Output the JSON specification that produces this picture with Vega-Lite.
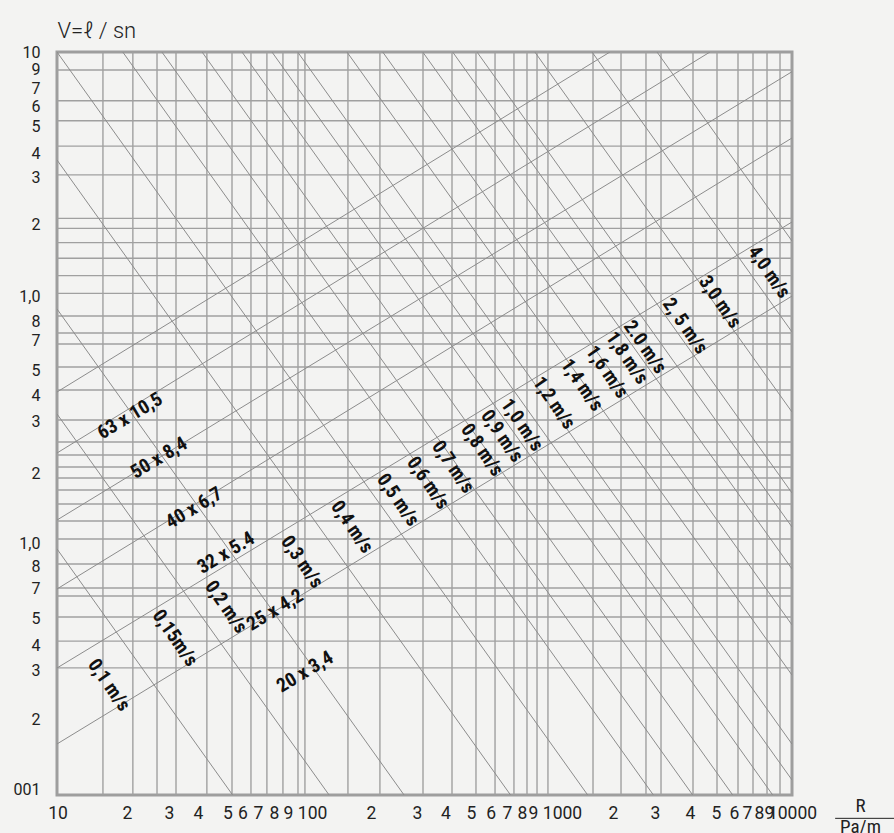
{
  "$schema": "https://vega.github.io/schema/vega-lite/v6.json",
  "width": 735,
  "height": 743,
  "autosize": {"type": "none"},
  "padding": {"left": 57, "top": 52, "right": 102, "bottom": 38},
  "background": "#f3f3f2",
  "config": {"view": {"stroke": "#9e9e9e", "strokeWidth": 3}},
  "datasets": {
    "vgrid": [{"r":15.4},{"r":20.4},{"r":25.6},{"r":30.6},{"r":40.9},{"r":51.8},{"r":61.9},{"r":71.9},{"r":83.6},{"r":96.3},{"r":102.8},{"r":154},{"r":208},{"r":311.8},{"r":409.5},{"r":513},{"r":613.6},{"r":733},{"r":828.5},{"r":910.5},{"r":1009},{"r":1541},{"r":2005},{"r":2535},{"r":2920},{"r":3944},{"r":4942},{"r":6020},{"r":6932},{"r":7907},{"r":8935}],
    "hgrid": [{"v":8.46},{"v":6.36},{"v":5.28},{"v":4.17},{"v":3.19},{"v":2.13},{"v":1.94},{"v":1.70},{"v":1.47},{"v":1.25},{"v":1.06},{"v":0.859},{"v":0.7335},{"v":0.6622},{"v":0.5348},{"v":0.4318},{"v":0.3266},{"v":0.2662},{"v":0.2359},{"v":0.2111},{"v":0.1905},{"v":0.1704},{"v":0.1496},{"v":0.1277},{"v":0.1081},{"v":0.0856},{"v":0.0685},{"v":0.0636},{"v":0.0523},{"v":0.0418},{"v":0.0326}],
    "lines": [
      {"r1":10,"v1":0.0985,"r2":52.1,"v2":0.01},
      {"r1":10,"v1":0.3455,"r2":129,"v2":0.01},
      {"r1":10,"v1":0.917,"r2":261,"v2":0.01},
      {"r1":10,"v1":3.664,"r2":710,"v2":0.01},
      {"r1":10,"v1":10,"r2":1466,"v2":0.01},
      {"r1":18.55,"v1":10,"r2":2719,"v2":0.01},
      {"r1":26.8,"v1":10,"r2":3933,"v2":0.01},
      {"r1":39.1,"v1":10,"r2":5728,"v2":0.01},
      {"r1":56.9,"v1":10,"r2":8341,"v2":0.01},
      {"r1":75.4,"v1":10,"r2":10000,"v2":0.0115},
      {"r1":96.0,"v1":10,"r2":10000,"v2":0.01606},
      {"r1":152.6,"v1":10,"r2":10000,"v2":0.0305},
      {"r1":213.5,"v1":10,"r2":10000,"v2":0.0486},
      {"r1":311,"v1":10,"r2":10000,"v2":0.0818},
      {"r1":412,"v1":10,"r2":10000,"v2":0.1208},
      {"r1":518,"v1":10,"r2":10000,"v2":0.1657},
      {"r1":892,"v1":10,"r2":10000,"v2":0.3518},
      {"r1":1527,"v1":10,"r2":10000,"v2":0.7404},
      {"r1":2812,"v1":10,"r2":10000,"v2":1.725},
      {"r1":10,"v1":0.4238,"r2":1807,"v2":10},
      {"r1":10,"v1":0.2404,"r2":4627,"v2":10},
      {"r1":10,"v1":0.1289,"r2":10000,"v2":8.327},
      {"r1":10,"v1":0.0679,"r2":10000,"v2":4.496},
      {"r1":10,"v1":0.03257,"r2":10000,"v2":2.059},
      {"r1":10,"v1":0.01607,"r2":10000,"v2":1.034}
    ],
    "vlabels": [
      {"r":16.3,"v":0.0278,"t":"0,1 m/s"},
      {"r":30.3,"v":0.04304,"t":"0,15m/s"},
      {"r":48.95,"v":0.05742,"t":"0,2 m/s"},
      {"r":100,"v":0.0873,"t":"0,3 m/s"},
      {"r":160,"v":0.1208,"t":"0,4 m/s"},
      {"r":246.5,"v":0.1553,"t":"0,5 m/s"},
      {"r":326.8,"v":0.1819,"t":"0,6 m/s"},
      {"r":413.4,"v":0.2111,"t":"0,7 m/s"},
      {"r":542.8,"v":0.2472,"t":"0,8 m/s"},
      {"r":655.2,"v":0.2814,"t":"0,9 m/s"},
      {"r":790.7,"v":0.3119,"t":"1,0 m/s"},
      {"r":1068,"v":0.3826,"t":"1,2 m/s"},
      {"r":1389,"v":0.4522,"t":"1,4 m/s"},
      {"r":1757,"v":0.5105,"t":"1,6 m/s"},
      {"r":2121,"v":0.5814,"t":"1,8 m/s"},
      {"r":2512,"v":0.6439,"t":"2.0 m/s"},
      {"r":3659,"v":0.783,"t":"2, 5 m/s"},
      {"r":5082,"v":0.9786,"t":"3,0 m/s"},
      {"r":8057,"v":1.293,"t":"4,0 m/s"}
    ],
    "dlabels": [
      {"r":19.86,"v":0.3391,"t":"63 x 10,5"},
      {"r":26.08,"v":0.2294,"t":"50 x 8,4"},
      {"r":36.25,"v":0.1441,"t":"40 x 6,7"},
      {"r":48.95,"v":0.0949,"t":"32 x 5.4"},
      {"r":77.6,"v":0.0558,"t":"25 x 4,2"},
      {"r":102.8,"v":0.03139,"t":"20 x 3,4"}
    ],
    "frac": [{"r1":15000,"r2":26500,"v":0.00805}]
  },
  "encoding": {
    "x": {"type": "quantitative",
      "scale": {"type": "log", "domain": [10, 10000], "nice": false},
      "axis": {
        "values": [10.05,19.31,28.65,37.63,49.65,57.17,66.13,76.86,87.7,109.9,191.2,294.7,385.2,489.6,588.8,686.6,790.7,876.9,1151,1860,2759,3834,4896,5798,6551,7333,8057,10000],
        "labelExpr": "['10','2','3','4','5','6','7','8','9','100','2','3','4','5','6','7','8','9','1000','2','3','4','5','6','7','8','9','10000'][indexof([10.05,19.31,28.65,37.63,49.65,57.17,66.13,76.86,87.7,109.9,191.2,294.7,385.2,489.6,588.8,686.6,790.7,876.9,1151,1860,2759,3834,4896,5798,6551,7333,8057,10000], datum.value)]",
        "grid": false, "ticks": false, "domain": false,
        "labelOverlap": false, "labelFlush": false, "labelBound": false,
        "labelFont": "Roboto",
        "labelFontSize": 17.5, "labelColor": "#222", "labelPadding": 9,
        "title": ["R", "Pa/m"],
        "titleFont": "Liberation Sans Narrow, Roboto Condensed, Roboto",
        "titleFontSize": 19, "titleFontWeight": "normal", "titleColor": "#222",
        "titleX": 803, "titleY": 16, "titleAlign": "center", "titleBaseline": "alphabetic",
        "titleLineHeight": 21
      }
    },
    "y": {"type": "quantitative",
      "scale": {"type": "log", "domain": [0.01, 10], "nice": false},
      "axis": {
        "values": [10,8.5,7.1,6,5,3.9,3.1,2.02,1.034,0.8192,0.6866,0.5155,0.4094,0.3225,0.1983,0.1036,0.0834,0.0683,0.0517,0.0401,0.0318,0.0201,0.0105],
        "labelExpr": "['10','9','7','6','5','4','3','2','1,0','8','7','5','4','3','2','1,0','8','7','5','4','3','2','001'][indexof([10,8.5,7.1,6,5,3.9,3.1,2.02,1.034,0.8192,0.6866,0.5155,0.4094,0.3225,0.1983,0.1036,0.0834,0.0683,0.0517,0.0401,0.0318,0.0201,0.0105], datum.value)]",
        "grid": false, "ticks": false, "domain": false,
        "labelOverlap": false, "labelFlush": false, "labelBound": false,
        "labelFont": "Roboto",
        "labelFontSize": 16, "labelColor": "#222", "labelPadding": 17,
        "title": "V=ℓ / sn",
        "titleFont": "Roboto", "titleFontSize": 22, "titleFontWeight": 300, "titleColor": "#222",
        "titleAngle": 0, "titleX": 0, "titleY": -15, "titleAlign": "left", "titleBaseline": "alphabetic"
      }
    }
  },
  "layer": [
    {
      "data": {"name": "vgrid"},
      "mark": {"type": "rule", "stroke": "#a0a0a0", "strokeWidth": 1.4},
      "encoding": {"x": {"field": "r"}}
    },
    {
      "data": {"name": "hgrid"},
      "mark": {"type": "rule", "stroke": "#a0a0a0", "strokeWidth": 1.4},
      "encoding": {"y": {"field": "v"}}
    },
    {
      "data": {"name": "lines"},
      "mark": {"type": "rule", "stroke": "#8c8c8c", "strokeWidth": 1, "clip": true},
      "encoding": {
        "x": {"field": "r1"},
        "y": {"field": "v1"},
        "x2": {"field": "r2"},
        "y2": {"field": "v2"}
      }
    },
    {
      "data": {"name": "vlabels"},
      "mark": {"type": "text", "angle": 55, "font": "Liberation Sans Narrow, Roboto Condensed, Roboto", "fontWeight": "bold", "fontSize": 19.5, "fill": "#111"},
      "encoding": {
        "x": {"field": "r"},
        "y": {"field": "v"},
        "text": {"field": "t"}
      }
    },
    {
      "data": {"name": "dlabels"},
      "mark": {"type": "text", "angle": -31, "font": "Liberation Sans Narrow, Roboto Condensed, Roboto", "fontWeight": "bold", "fontSize": 19.5, "fill": "#111"},
      "encoding": {
        "x": {"field": "r"},
        "y": {"field": "v"},
        "text": {"field": "t"}
      }
    },
    {
      "data": {"name": "frac"},
      "mark": {"type": "rule", "stroke": "#222", "strokeWidth": 1, "clip": false},
      "encoding": {
        "x": {"field": "r1"},
        "x2": {"field": "r2"},
        "y": {"field": "v"}
      }
    }
  ]
}
